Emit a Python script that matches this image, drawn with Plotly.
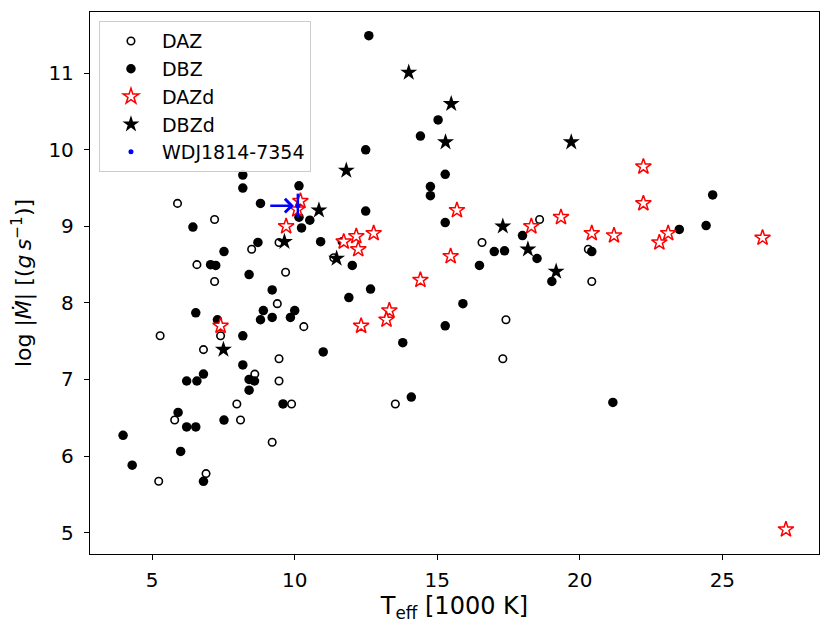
import plotly.graph_objects as go

# DAZ (open circles)
daz_teff = [5.89, 7.19, 9.45, 8.49, 6.57, 9.68, 7.19, 9.39, 10.32, 5.28, 7.40, 6.80, 9.45, 8.60,
            9.45, 7.97, 9.89, 5.79, 8.10, 9.21, 5.23, 6.89, 11.37, 16.57, 18.59, 17.41, 17.30,
            13.53, 20.30, 20.42]
daz_mdot = [9.30, 9.09, 8.79, 8.70, 8.50, 8.40, 8.28, 7.99, 7.69, 7.57, 7.57, 7.39, 7.27, 7.07,
            6.98, 6.68, 6.68, 6.47, 6.47, 6.18, 5.67, 5.77, 8.59, 8.79, 9.09, 7.78, 7.27,
            6.68, 8.70, 8.28]

# DBZ (filled circles)
dbz_teff = [8.18, 8.18, 8.80, 10.15, 10.15, 10.53, 10.24, 6.43, 10.91, 8.71, 7.52, 7.05, 7.23,
            8.40, 9.21, 6.53, 8.90, 10.00, 8.80, 9.21, 9.85, 7.29, 8.18, 11.00, 8.18, 6.80, 6.21,
            6.57, 8.40, 8.59, 8.40, 9.59, 5.91, 6.21, 6.53, 7.52, 3.98, 6.00, 4.30, 6.80,
            12.60, 15.03, 14.41, 12.49, 15.28, 14.76, 14.76, 12.49, 15.28, 17.99, 11.67, 12.02,
            17.00, 17.36, 18.50, 16.48, 19.02, 12.66, 11.90, 15.90, 15.28, 13.79, 14.09, 24.66,
            23.49, 24.43, 20.42, 21.16]
dbz_mdot = [9.67, 9.50, 9.30, 9.53, 9.12, 9.08, 8.98, 8.99, 8.80, 8.79, 8.67, 8.50, 8.49,
            8.37, 8.17, 7.87, 7.90, 7.90, 7.78, 7.81, 7.81, 7.78, 7.57, 7.36, 7.19, 7.07, 6.98,
            6.98, 7.00, 6.98, 6.86, 6.68, 6.57, 6.38, 6.38, 6.47, 6.27, 6.06, 5.88, 5.67,
            11.49, 10.39, 10.18, 10.00, 9.68, 9.52, 9.40, 9.20, 9.05, 8.88, 8.80, 8.49,
            8.67, 8.68, 8.58, 8.49, 8.28, 8.18, 8.07, 7.99, 7.70, 7.48, 6.77, 9.41,
            8.96, 9.01, 8.67, 6.70]

# DAZd (red open stars)
dazd_teff = [10.20, 10.09, 9.70, 7.40, 15.69, 18.30, 19.34, 12.77, 12.16, 11.72, 12.23, 15.47,
             14.41, 13.32, 13.22, 12.33, 22.23, 22.23, 20.42, 21.20, 23.10, 22.79, 26.41, 27.23]
dazd_mdot = [9.33, 9.22, 9.00, 7.70, 9.21, 9.00, 9.12, 8.91, 8.87, 8.80, 8.70, 8.61,
             8.30, 7.90, 7.78, 7.70, 9.78, 9.30, 8.91, 8.88, 8.91, 8.79, 8.85, 5.04]

# DBZd (black stars)
dbzd_teff = [10.85, 9.64, 7.50, 14.00, 15.49, 15.29, 19.70, 11.81, 17.30, 11.47, 18.18, 19.17]
dbzd_mdot = [9.21, 8.80, 7.39, 11.01, 10.60, 10.10, 10.10, 9.73, 9.00, 8.58, 8.70, 8.41]

# WDJ1814-7354
wdj_teff = [10.11]
wdj_mdot = [9.27]
wdj_mdot_err = [0.157]
wdj_teff_limit = [9.09]  # tail of the lower-limit arrow

fig = go.Figure()

fig.add_trace(go.Scatter(
    x=daz_teff, y=daz_mdot, mode="markers", name="DAZ", legendgroup="a",
    marker=dict(symbol="circle-open", size=7.5, color="black", line=dict(width=1.6)),
))
fig.add_trace(go.Scatter(
    x=dbz_teff, y=dbz_mdot, mode="markers", name="DBZ", legendgroup="b",
    marker=dict(symbol="circle", size=9.5, color="black", line=dict(width=0)),
))
fig.add_trace(go.Scatter(
    x=dazd_teff, y=dazd_mdot, mode="markers", name="DAZd", legendgroup="c",
    marker=dict(symbol="star", size=11.8, color="white", line=dict(color="red", width=1.5)),
))
fig.add_trace(go.Scatter(
    x=dbzd_teff, y=dbzd_mdot, mode="markers", name="DBZd", legendgroup="d",
    marker=dict(symbol="star", size=12.8, color="black", line=dict(width=0)),
))
fig.add_trace(go.Scatter(
    x=wdj_teff, y=wdj_mdot, mode="markers", name="WDJ1814-7354", legendgroup="e",
    marker=dict(symbol="circle", size=5, color="blue", line=dict(width=0)),
    error_y=dict(type="data", array=wdj_mdot_err, color="blue", thickness=2.5, width=0),
))

# lower-limit arrow on Teff for WDJ1814-7354
fig.add_annotation(
    x=wdj_teff[0] - 0.14, y=wdj_mdot[0], ax=wdj_teff_limit[0], ay=wdj_mdot[0],
    xref="x", yref="y", axref="x", ayref="y", text="",
    showarrow=True, arrowhead=4, arrowsize=1.1, arrowwidth=2.4, arrowcolor="blue",
)

# the page body adds 8px around the figure, so the figure is 8px smaller than the window
fig.update_layout(
    width=823,
    height=622,
    template="plotly_white",
    plot_bgcolor="white",
    paper_bgcolor="white",
    margin=dict(l=82, r=12, t=4, b=76),
    font=dict(family="DejaVu Sans", size=20, color="black"),
    showlegend=True,
    legend=dict(
        x=0.0123, y=0.983, xanchor="left", yanchor="top",
        bgcolor="rgba(255,255,255,0.8)", bordercolor="#cccccc", borderwidth=1,
        font=dict(size=19), tracegroupgap=0, itemwidth=52,
    ),
)
fig.update_xaxes(
    range=[2.82, 28.39], tickvals=[5, 10, 15, 20, 25],
    showline=True, mirror=True, linecolor="black", linewidth=1.3,
    ticks="outside", ticklen=5, tickcolor="black", ticklabelstandoff=3,
    showgrid=False, zeroline=False,
    title=dict(text="T<sub>eff</sub> [1000 K]", font=dict(size=24), standoff=6),
)
fig.update_yaxes(
    range=[4.72, 11.80], tickvals=[5, 6, 7, 8, 9, 10, 11],
    showline=True, mirror=True, linecolor="black", linewidth=1.3,
    ticks="outside", ticklen=5, tickcolor="black", ticklabelstandoff=6,
    showgrid=False, zeroline=False,
    title=dict(text="log |<i>Ṁ</i>| [(<i>g\u2009s</i><sup>−1</sup>)]", font=dict(size=22), standoff=12),
)

fig.write_html("out.html")
